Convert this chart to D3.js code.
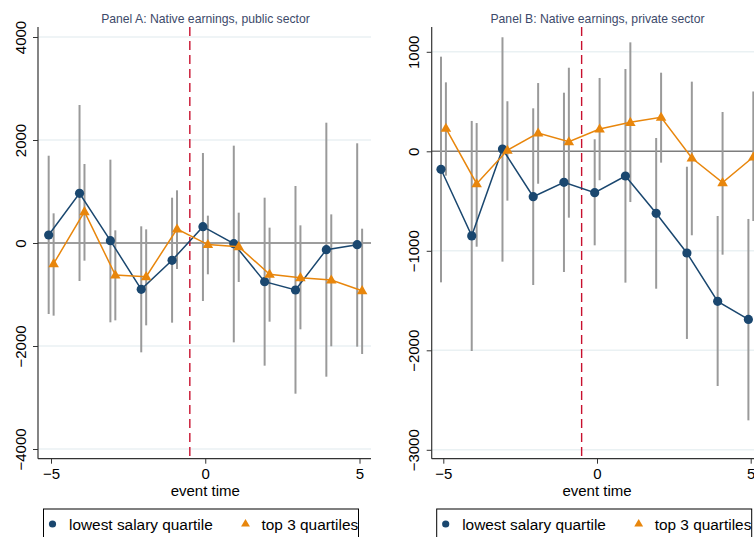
<!DOCTYPE html>
<html><head><meta charset="utf-8">
<script src="https://cdn.jsdelivr.net/npm/d3@7"></script>
<style>body{margin:0;background:#fff}svg{display:block;font-family:"Liberation Sans",Arial,sans-serif}</style>
</head><body><svg id="c" width="754" height="537"></svg>
<script>
const eventTime = [-5,-4,-3,-2,-1,0,1,2,3,4,5];
const xTicks = [-5,0,5];
const seriesNames = ["lowest salary quartile","top 3 quartiles"];
const titleA = "Panel A: Native earnings, public sector";
const titleB = "Panel B: Native earnings, private sector";
const xLabel = "event time";
const eventLine = -0.5;

const yTicksA = [4000,2000,0,-2000,-4000];
const A_low    = [155, 965, 45, -899, -336, 317, -13, -751, -913, -129, -32];
const A_low_hi = [1695, 2680, 1618, 324, 880, 1748, 1890, 880, 1107, 2336, 1936];
const A_low_lo = [-1379, -738, -1540, -2123, -1547, -1126, -1929, -2382, -2926, -2596, -2013];
const A_top    = [-401, 608, -621, -654, 272, -30, -71, -608, -673, -718, -926];
const A_top_hi = [576, 1534, 246, 265, 1023, 531, 589, 298, 343, 556, 278];
const A_top_lo = [-1411, -343, -1502, -1599, -505, -608, -757, -1528, -1676, -2006, -2155];

const yTicksB = [1000,0,-1000,-2000,-3000];
const B_low    = [-181, -850, 23, -456, -312, -416, -248, -623, -1022, -1508, -1690];
const B_low_hi = [951, 305, 1146, 432, 589, 121, 827, 134, -155, -650, -680];
const B_low_lo = [-1317, -2007, -1109, -1344, -1213, -945, -1320, -1381, -1886, -2359, -2704];
const B_top    = [231, -326, 10, 184, 96, 224, 291, 342, -67, -315, -57];
const B_top_hi = [693, 284, 503, 686, 840, 737, 1095, 790, 700, 395, 600];
const B_top_lo = [-245, -959, -496, -326, -667, -291, -510, -114, -844, -1039, -700];

const C_BLUE = "#1a476f", C_ORANGE = "#e8860c", C_CI = "#9a9a9a", C_RED = "#c8102e", C_GRID = "#eaf1f3";
const svg = d3.select("#c");

function panel(cfg){
  const g = svg.append("g");
  const x = d3.scaleLinear().domain(cfg.xdom).range([cfg.left, cfg.right]);
  const y = d3.scaleLinear().domain(cfg.ydom).range([cfg.bottom, cfg.top]);
  // grid
  g.selectAll(".grid").data(cfg.yTicks.filter(v=>v!==0)).join("line")
    .attr("x1", cfg.left).attr("x2", cfg.right)
    .attr("y1", d=>y(d)).attr("y2", d=>y(d))
    .attr("stroke", C_GRID).attr("stroke-width", 1.5);
  // zero line
  g.append("line").attr("x1", cfg.left).attr("x2", cfg.right)
    .attr("y1", y(0)).attr("y2", y(0)).attr("stroke", "#7d7d7d").attr("stroke-width", 1.6);
  // event line
  g.append("line").attr("x1", x(eventLine)).attr("x2", x(eventLine))
    .attr("y1", cfg.top).attr("y2", cfg.bottom)
    .attr("stroke", C_RED).attr("stroke-width", 1.4).attr("stroke-dasharray", "9,5");
  const series = [
    {v: cfg.low, hi: cfg.lowHi, lo: cfg.lowLo, off: -0.075, color: C_BLUE, sym: "c"},
    {v: cfg.topv, hi: cfg.topHi, lo: cfg.topLo, off: 0.085, color: C_ORANGE, sym: "t"}
  ];
  // CIs
  series.forEach(s=>{
    g.selectAll(null).data(eventTime).join("line")
      .attr("x1", (d,i)=>x(d+s.off)).attr("x2", (d,i)=>x(d+s.off))
      .attr("y1", (d,i)=>y(s.hi[i])).attr("y2", (d,i)=>y(s.lo[i]))
      .attr("stroke", C_CI).attr("stroke-width", 2);
  });
  series.forEach(s=>{
    const line = d3.line().x((d,i)=>x(d+s.off)).y((d,i)=>y(s.v[i]));
    g.append("path").datum(eventTime).attr("d", line).attr("fill","none")
      .attr("stroke", s.color).attr("stroke-width", 1.5);
    if (s.sym==="c") {
      g.selectAll(null).data(eventTime).join("circle")
        .attr("cx",(d)=>x(d+s.off)).attr("cy",(d,i)=>y(s.v[i])).attr("r",4.6).attr("fill", s.color);
    } else {
      const tri = d3.symbol().type(d3.symbolTriangle).size(48);
      g.selectAll(null).data(eventTime).join("path")
        .attr("d", tri).attr("transform",(d,i)=>`translate(${x(d+s.off)},${y(s.v[i])+0.5})`).attr("fill", s.color);
    }
  });
  // axes
  const yAx = g.append("g").attr("transform",`translate(${cfg.left},0)`)
    .call(d3.axisLeft(y).tickValues(cfg.yTicks).tickSize(5).tickPadding(8).tickFormat(d3.format("d")));
  yAx.select(".domain").attr("d", `M0,${cfg.top}V${cfg.bottom}`).attr("stroke","#333").attr("stroke-width",1.2);
  yAx.selectAll(".tick line").attr("stroke","#333");
  yAx.selectAll(".tick text").attr("font-size", 15).attr("fill","#000")
    .attr("transform", "rotate(-90)").attr("x", 0).attr("y", -12.5).attr("dy", 0)
    .attr("text-anchor","middle")
    .attr("transform", function(){ return "rotate(-90)"; });
  // position rotated labels: text is in tick's frame (translate(0,y)), rotate around tick origin
  yAx.selectAll(".tick text").attr("x",0).attr("y",-12.5);
  const xAx = g.append("g").attr("transform",`translate(0,${cfg.bottom})`)
    .call(d3.axisBottom(x).tickValues(xTicks).tickSize(5).tickPadding(4).tickFormat(d3.format("d")));
  xAx.select(".domain").attr("d", `M${cfg.left},0H${cfg.right}`).attr("stroke","#333").attr("stroke-width",1.2);
  xAx.selectAll(".tick line").attr("stroke","#333");
  xAx.selectAll(".tick text").attr("font-size", 15).attr("fill","#000").attr("dy", 0).attr("y", 20.5);
  // axis title
  g.append("text").attr("x", x(0)).attr("y", 495.5).attr("text-anchor","middle")
    .attr("font-size", 15).attr("fill","#000").text(xLabel);
  // title
  g.append("text").attr("x", cfg.titleX).attr("y", 22.5).attr("text-anchor","middle")
    .attr("font-size", 12.2).attr("fill","#3d4a6a").text(cfg.title);
  // legend
  const L = g.append("g");
  L.append("rect").attr("x", cfg.legX).attr("y", 509).attr("width", 315).attr("height", 40)
    .attr("fill","#fff").attr("stroke","#000").attr("stroke-width",1);
  L.append("circle").attr("cx", cfg.legX+9).attr("cy", 524).attr("r", 3.6).attr("fill", C_BLUE);
  L.append("text").attr("x", cfg.legX+25.5).attr("y", 529.5).attr("font-size", 15.4).attr("fill","#000").text(seriesNames[0]);
  L.append("path").attr("d", d3.symbol().type(d3.symbolTriangle).size(34))
    .attr("transform", `translate(${cfg.legX+202},${524})`).attr("fill", C_ORANGE);
  L.append("text").attr("x", cfg.legX+218).attr("y", 529.5).attr("font-size", 15.4).attr("fill","#000").text(seriesNames[1]);
}

panel({left:38, right:371, top:27, bottom:458.7,
  xdom:[(38-205.25)/30.85, (371-205.25)/30.85],
  ydom:[(243-458.7)/103*2000, (243-27)/103*2000],
  yTicks:yTicksA, low:A_low, lowHi:A_low_hi, lowLo:A_low_lo,
  topv:A_top, topHi:A_top_hi, topLo:A_top_lo,
  title:titleA, titleX:205.5, legX:43.5});
panel({left:431.7, right:765, top:27, bottom:458.7,
  xdom:[(431.7-597)/30.74, (765-597)/30.74],
  ydom:[(151.3-458.7)/99.5*1000, (151.3-27)/99.5*1000],
  yTicks:yTicksB, low:B_low, lowHi:B_low_hi, lowLo:B_low_lo,
  topv:B_top, topHi:B_top_hi, topLo:B_top_lo,
  title:titleB, titleX:597.5, legX:436.7});
</script></body></html>
